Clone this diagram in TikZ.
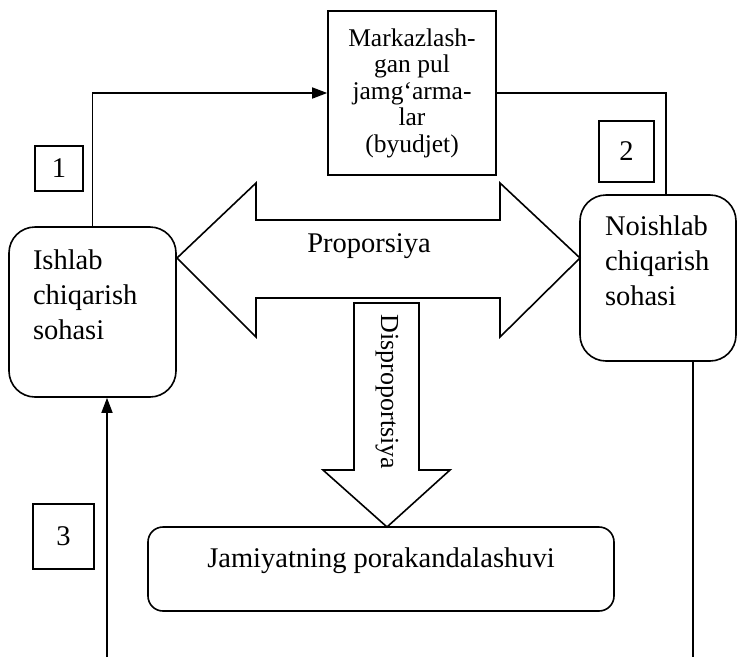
\documentclass[tikz,border=0pt]{standalone}
\usepackage{fontspec}
\setmainfont{Liberation Serif}
\usetikzlibrary{arrows.meta}
\tikzset{%
  block/.style  = {draw, line width=1.6pt, rectangle, align=center, inner sep=0pt},
  sector/.style = {draw, line width=1.6pt, rectangle, rounded corners=26pt,
    align=left, inner ysep=0pt, inner xsep=24pt}, % Sohalar
  num/.style    = {draw, line width=1.6pt, rectangle, inner sep=0pt},
  fat/.style    = {draw, line width=1.6pt, fill=white}, % katta strelkalar
  link/.style   = {line width=1.6pt}
}

\begin{document}
\begin{tikzpicture}[x=1pt, y=-1pt, >={Triangle[length=15pt, width=11pt]}, font=\fontsize{28.5}{35}\selectfont]
	\useasboundingbox (0,0) rectangle (737,657);

	\draw node at (412,93) [block, minimum width=168pt, minimum height=164pt,
		font=\fontsize{25.5}{26.5}\selectfont] (fund) {Markazlash-\\gan pul\\jamg‘arma-\\lar\\(byudjet)};

	\draw node at (92.5,312) [sector, text width=119pt, minimum width=167pt, minimum height=170pt] (ishlab) {Ishlab\\chiqarish\\sohasi\\~};
	\draw node at (658,278) [sector, text width=106pt, minimum width=156pt, minimum height=166pt] (noish) {Noishlab\\chiqarish\\sohasi\\~};
	\draw node at (381,569) [block, rounded corners=15pt, minimum width=466pt, minimum height=84pt] (jam) {Jamiyatning porakandalashuvi\\[-12pt]~};

	\draw node at (59,168.5) [num, minimum width=48pt, minimum height=45pt] (num1) {1};
	\draw node at (626.5,151.5) [num, minimum width=55pt, minimum height=61pt] (num2) {2};
	\draw node at (63.5,536.5) [num, minimum width=61pt, minimum height=65pt] (num3) {3};

	% ikki tomonlama strelka
	\draw[fat] (177,258) -- (256,183) -- (256,220) -- (500,220) -- (500,183) -- (580,258)
		-- (500,337) -- (500,298) -- (256,298) -- (256,337) -- cycle;
	\draw node at (369,246) (prop) {Proporsiya};

	% pastga strelka
	\draw[fat] (354,303) -- (419,303) -- (419,470) -- (450,470) -- (387,527) -- (323,470)
		-- (354,470) -- cycle;
	\draw node at (387,392) [rotate=-90, font=\fontsize{26}{30}\selectfont] (dis) {Disproportsiya};

	\coordinate (inlet) at (107,657);
	\coordinate (outlet) at (693,657);

	\draw[link, ->] (ishlab.north) |- (fund.west);
	\draw[link] (fund.east) -| ([xshift=8pt]noish.north);
	\draw[link, ->] (inlet) -- (inlet |- ishlab.south);
	\draw[link] (outlet |- noish.south) -- (outlet);

\end{tikzpicture}
\end{document}
